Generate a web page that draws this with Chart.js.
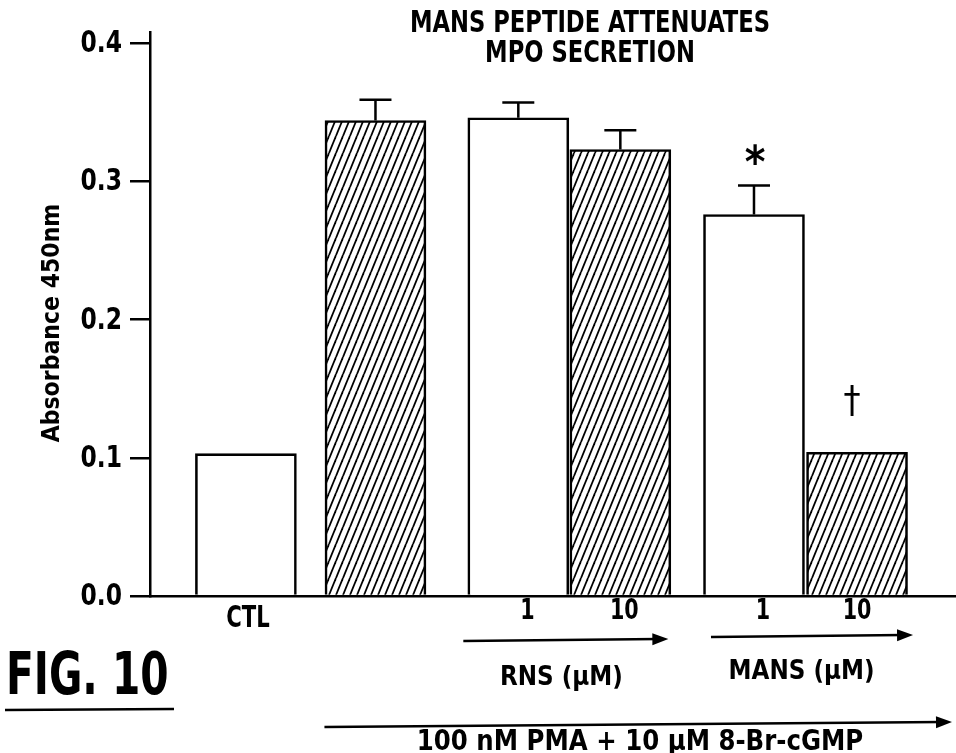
<!DOCTYPE html>
<html>
<head>
<meta charset="utf-8">
<script src="https://cdn.jsdelivr.net/npm/chart.js@4"></script>
<style>
  html, body { margin: 0; padding: 0; background: #fff; }
  #wrap { width: 956px; height: 753px; }
</style>
</head>
<body>
<div id="wrap"><canvas id="fig10" width="956" height="753"></canvas></div>
<script>
// values
const categories = ['CTL', 'PMA + 8-Br-cGMP', 'RNS 1', 'RNS 10', 'MANS 1', 'MANS 10'];
const tickLabels = ['CTL', '', '1', '10', '1', '10'];
const xPos = [0, 1.27, 2.67, 3.67, 4.98, 5.99];
const absorbance = [0.103, 0.344, 0.346, 0.323, 0.276, 0.104];
const sem = [null, 0.015, 0.011, 0.014, 0.021, null];
const hatched = [false, true, false, true, false, true];
const marks = ['', '', '', '', '*', '\u2020'];
const yTicks = [0, 0.1, 0.2, 0.3, 0.4];

const FONT = '"Liberation Sans Narrow", "DejaVu Sans Condensed", "DejaVu Sans", sans-serif';

function hatchPattern() {
  const c = document.createElement('canvas');
  const w = 7, h = 17;
  c.width = w;
  c.height = h;
  const g = c.getContext('2d');
  g.fillStyle = '#fff';
  g.fillRect(0, 0, w, h);
  g.strokeStyle = '#000';
  g.lineWidth = 1.8;
  for (let k = -1; k <= 1; k++) {
    g.beginPath();
    g.moveTo(k * w, h);
    g.lineTo((k + 1) * w, 0);
    g.stroke();
  }
  return g.createPattern(c, 'repeat');
}

const ctx = document.getElementById('fig10').getContext('2d');
const hatch = hatchPattern();

// draws text squeezed horizontally (sx) to imitate the condensed face of the figure
function text(c, str, x, y, size, opts = {}) {
  c.save();
  c.font = `${opts.weight || 'bold'} ${size}px ${FONT}`;
  c.fillStyle = '#000';
  c.textAlign = opts.align || 'center';
  c.textBaseline = 'middle';
  c.translate(x, y);
  if (opts.rotate) c.rotate(opts.rotate);
  c.scale(opts.sx || 1, 1);
  c.fillText(str, 0, 0);
  c.restore();
}

function arrow(c, x1, x2, y1, y2 = y1, lw = 2.5) {
  const a = Math.atan2(y2 - y1, x2 - x1);
  c.save();
  c.strokeStyle = '#000';
  c.fillStyle = '#000';
  c.lineWidth = lw;
  c.beginPath();
  c.moveTo(x1, y1);
  c.lineTo(x2 - 10 * Math.cos(a), y2 - 10 * Math.sin(a));
  c.stroke();
  c.translate(x2, y2);
  c.rotate(a);
  c.beginPath();
  c.moveTo(0, 0);
  c.lineTo(-16, -6);
  c.lineTo(-16, 6);
  c.closePath();
  c.fill();
  c.restore();
}

const errorBars = {
  id: 'errorBars',
  afterDatasetsDraw(chart) {
    const c = chart.ctx;
    const xs = chart.scales.x;
    const ys = chart.scales.y;
    c.save();
    c.strokeStyle = '#000';
    c.lineWidth = 2.5;
    absorbance.forEach((v, i) => {
      const x = xs.getPixelForValue(xPos[i]);
      const yBar = ys.getPixelForValue(v);
      let yTop = yBar;
      if (sem[i] != null) {
        yTop = ys.getPixelForValue(v + sem[i]);
        c.beginPath();
        c.moveTo(x, yBar);
        c.lineTo(x, yTop);
        c.moveTo(x - 16, yTop);
        c.lineTo(x + 16, yTop);
        c.stroke();
      }
      if (marks[i] === '*') text(c, '*', x + 1, yTop - 20, 44);
      if (marks[i] === '\u2020') text(c, '\u2020', x - 5, yTop - 50, 38, { weight: 'normal' });
    });
    c.restore();
  },
};

const annotations = {
  id: 'annotations',
  afterDraw(chart) {
    const c = chart.ctx;
    const xs = chart.scales.x;
    const ys = chart.scales.y;
    const base = ys.getPixelForValue(0);

    // title
    text(c, 'MANS PEPTIDE ATTENUATES', 590, 24, 30, { sx: 0.84 });
    text(c, 'MPO SECRETION', 590, 54, 30, { sx: 0.84 });

    // y axis labels and title
    yTicks.forEach((v) => {
      text(c, v.toFixed(1), 122, ys.getPixelForValue(v) + 1, 31, { align: 'right', sx: 0.84 });
    });
    text(c, 'Absorbance 450nm', 52, 323, 25, { rotate: -Math.PI / 2, sx: 0.98 });

    // category labels
    const nudge = [2, 0, 9, 4, 9, 0];
    tickLabels.forEach((lab, i) => {
      if (!lab) return;
      const x = xs.getPixelForValue(xPos[i]) + nudge[i];
      if (i === 0) text(c, lab, x, base + 23, 31, { sx: 0.76 });
      else text(c, lab, x, base + 16, 28, { sx: 0.82 });
    });

    // group arrows
    const half = 0.5;
    const rns0 = xs.getPixelForValue(xPos[2] - half);
    const rns1 = xs.getPixelForValue(xPos[3] + half);
    const mans0 = xs.getPixelForValue(xPos[4] - half);
    const mans1 = xs.getPixelForValue(xPos[5] + half);
    arrow(c, rns0 - 4, rns1 - 3, base + 45, base + 43);
    arrow(c, mans0 + 8, mans1 + 5, base + 41, base + 39);
    text(c, 'RNS (\u03bcM)', (rns0 + rns1) / 2 - 8, base + 82, 27, { sx: 0.95 });
    text(c, 'MANS (\u03bcM)', (mans0 + mans1) / 2 - 4, base + 76, 27, { sx: 0.95 });

    const pma0 = xs.getPixelForValue(xPos[1] - half);
    arrow(c, pma0, chart.width - 4, base + 131, base + 126);
    text(c, '100 nM PMA + 10 \u03bcM 8-Br-cGMP', 640, base + 147, 28, { sx: 0.97 });

    // figure label
    text(c, 'FIG. 10', 6, 679, 58, { align: 'left', sx: 0.78 });
    c.save();
    c.strokeStyle = '#000';
    c.lineWidth = 2.5;
    c.beginPath();
    c.moveTo(5, 710);
    c.lineTo(174, 709);
    c.stroke();
    c.restore();
  },
};

new Chart(ctx, {
  type: 'bar',
  data: {
    labels: categories,
    datasets: [
      {
        data: absorbance.map((v, i) => ({ x: xPos[i], y: v })),
        backgroundColor: hatched.map((h) => (h ? hatch : '#fff')),
        borderColor: '#000',
        borderWidth: 2.6,
        borderSkipped: 'bottom',
        barThickness: 101,
      },
    ],
  },
  options: {
    responsive: false,
    animation: false,
    devicePixelRatio: 1,
    layout: { padding: { top: 32, right: 0, bottom: 157, left: 0 } },
    plugins: {
      legend: { display: false },
      tooltip: { enabled: false },
      title: { display: false },
    },
    scales: {
      x: {
        type: 'linear',
        offset: false,
        min: -0.94,
        max: 6.96,
        ticks: { display: false },
        grid: { display: false, drawTicks: false },
        border: { display: true, color: '#000', width: 2.5 },
      },
      y: {
        min: 0,
        max: 0.408,
        afterBuildTicks(scale) {
          scale.ticks = yTicks.map((v) => ({ value: v }));
        },
        afterFit(scale) {
          scale.width = 150;
        },
        ticks: { display: false },
        grid: {
          drawOnChartArea: false,
          drawTicks: true,
          tickLength: 20,
          color: '#000',
          lineWidth: 2.5,
        },
        border: { display: true, color: '#000', width: 2.5 },
      },
    },
  },
  plugins: [errorBars, annotations],
});
</script>
</body>
</html>
